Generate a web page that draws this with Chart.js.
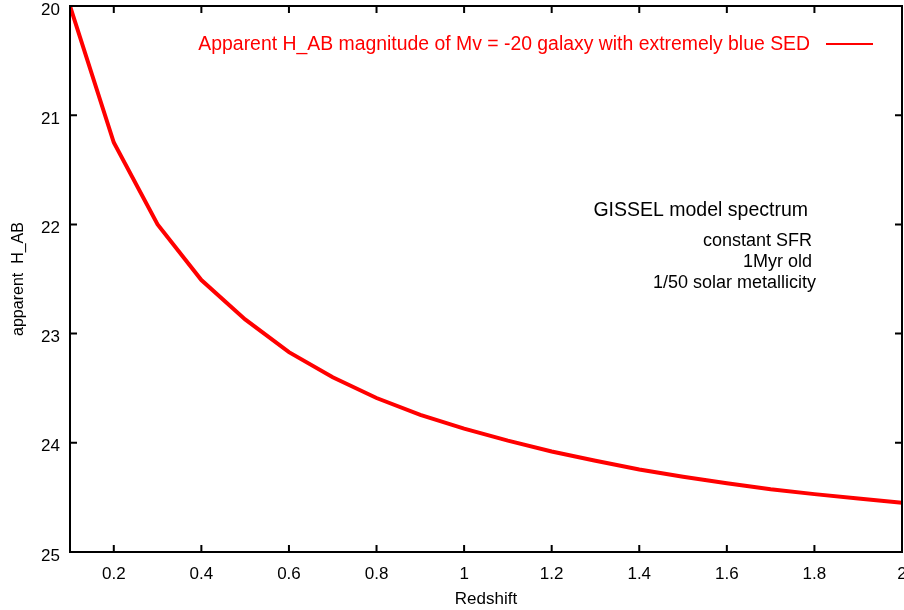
<!DOCTYPE html>
<html>
<head>
<meta charset="utf-8">
<script src="https://cdn.jsdelivr.net/npm/chart.js@4"></script>
<style>
  html, body { margin: 0; padding: 0; background: #fff; }
  #wrap { width: 904px; height: 610px; }
</style>
</head>
<body>
<div id="wrap"><canvas id="chart" width="904" height="610"></canvas></div>
<script>
// values
var redshift = [0.1, 0.2, 0.3, 0.4, 0.5, 0.6, 0.7, 0.8, 0.9, 1.0,
                1.1, 1.2, 1.3, 1.4, 1.5, 1.6, 1.7, 1.8, 1.9, 2.0];
var hAB = [20.0, 21.25, 22.0, 22.51, 22.87, 23.17, 23.40, 23.59, 23.745, 23.87,
           23.98, 24.08, 24.165, 24.245, 24.31, 24.37, 24.425, 24.47, 24.51, 24.55];
var xTicks = [0.2, 0.4, 0.6, 0.8, 1, 1.2, 1.4, 1.6, 1.8, 2];
var yTicks = [20, 21, 22, 23, 24, 25];
var legendText = 'Apparent H_AB magnitude of Mv = -20 galaxy with extremely blue SED';
var noteTitle = 'GISSEL model spectrum';
var noteLines = ['constant SFR', '1Myr old', '1/50 solar metallicity'];

var FONT = '"Liberation Sans", Arial, Helvetica, sans-serif';

// frame with inward ticks on all four sides, gnuplot style
var framePlugin = {
  id: 'frame',
  afterDatasetsDraw: function(chart) {
    var ctx = chart.ctx, a = chart.chartArea, x = chart.scales.x, y = chart.scales.y;
    ctx.save();
    ctx.strokeStyle = '#000';
    ctx.lineWidth = 2;
    ctx.strokeRect(a.left, a.top, a.right - a.left, a.bottom - a.top);
    ctx.beginPath();
    x.ticks.forEach(function(t) {
      var px = x.getPixelForValue(t.value);
      ctx.moveTo(px, a.bottom); ctx.lineTo(px, a.bottom - 7);
      ctx.moveTo(px, a.top); ctx.lineTo(px, a.top + 7);
    });
    y.ticks.forEach(function(t) {
      var py = y.getPixelForValue(t.value);
      ctx.moveTo(a.left, py); ctx.lineTo(a.left + 7, py);
      ctx.moveTo(a.right, py); ctx.lineTo(a.right - 7, py);
    });
    ctx.stroke();
    ctx.restore();
  }
};

// key (text then sample line) and the model notes
var notesPlugin = {
  id: 'notes',
  afterDraw: function(chart) {
    var ctx = chart.ctx;
    ctx.save();
    ctx.textBaseline = 'middle';
    ctx.textAlign = 'right';
    ctx.fillStyle = '#ff0000';
    ctx.font = '19.4px ' + FONT;
    ctx.fillText(legendText, 810, 45);
    ctx.strokeStyle = '#ff0000';
    ctx.lineWidth = 2;
    ctx.beginPath();
    ctx.moveTo(826, 44); ctx.lineTo(873, 44);
    ctx.stroke();

    ctx.fillStyle = '#000';
    ctx.font = '19.5px ' + FONT;
    ctx.fillText(noteTitle, 808, 211);
    ctx.font = '18px ' + FONT;
    ctx.fillText(noteLines[0], 812, 241);
    ctx.fillText(noteLines[1], 812, 262);
    ctx.fillText(noteLines[2], 816, 283);
    ctx.restore();
  }
};

new Chart(document.getElementById('chart'), {
  type: 'line',
  data: {
    datasets: [{
      data: redshift.map(function(z, i) { return {x: z, y: hAB[i]}; }),
      borderColor: '#ff0000',
      borderWidth: 4,
      pointRadius: 0,
      tension: 0,
      fill: false
    }]
  },
  options: {
    responsive: false,
    animation: false,
    layout: { padding: { top: 6, right: 2, left: 0, bottom: 0 } },
    plugins: { legend: { display: false }, tooltip: { enabled: false } },
    scales: {
      x: {
        type: 'linear',
        min: 0.1,
        max: 2,
        afterBuildTicks: function(s) { s.ticks = xTicks.map(function(v) { return {value: v}; }); },
        afterFit: function(s) { s.height = 58; s.paddingLeft = 0; s.paddingRight = 0; },
        grid: { display: false, drawTicks: false },
        border: { display: false },
        ticks: {
          autoSkip: false,
          maxRotation: 0,
          padding: 12,
          color: '#000',
          font: { family: FONT, size: 17 },
          callback: function(v) { return String(v); }
        },
        title: {
          display: true,
          text: 'Redshift',
          color: '#000',
          font: { family: FONT, size: 17 },
          padding: { top: 0, bottom: 0 }
        }
      },
      y: {
        type: 'linear',
        reverse: true,
        min: 20,
        max: 25,
        afterBuildTicks: function(s) { s.ticks = yTicks.map(function(v) { return {value: v}; }); },
        afterFit: function(s) { s.width = 70; s.paddingTop = 0; s.paddingBottom = 0; },
        grid: { display: false, drawTicks: false },
        border: { display: false },
        ticks: {
          padding: 10,
          labelOffset: 4,
          color: '#000',
          font: { family: FONT, size: 17 }
        },
        title: {
          display: true,
          text: 'apparent  H_AB',
          color: '#000',
          font: { family: FONT, size: 16 },
          padding: { top: 9, bottom: 0 }
        }
      }
    }
  },
  plugins: [framePlugin, notesPlugin]
});
</script>
</body>
</html>
